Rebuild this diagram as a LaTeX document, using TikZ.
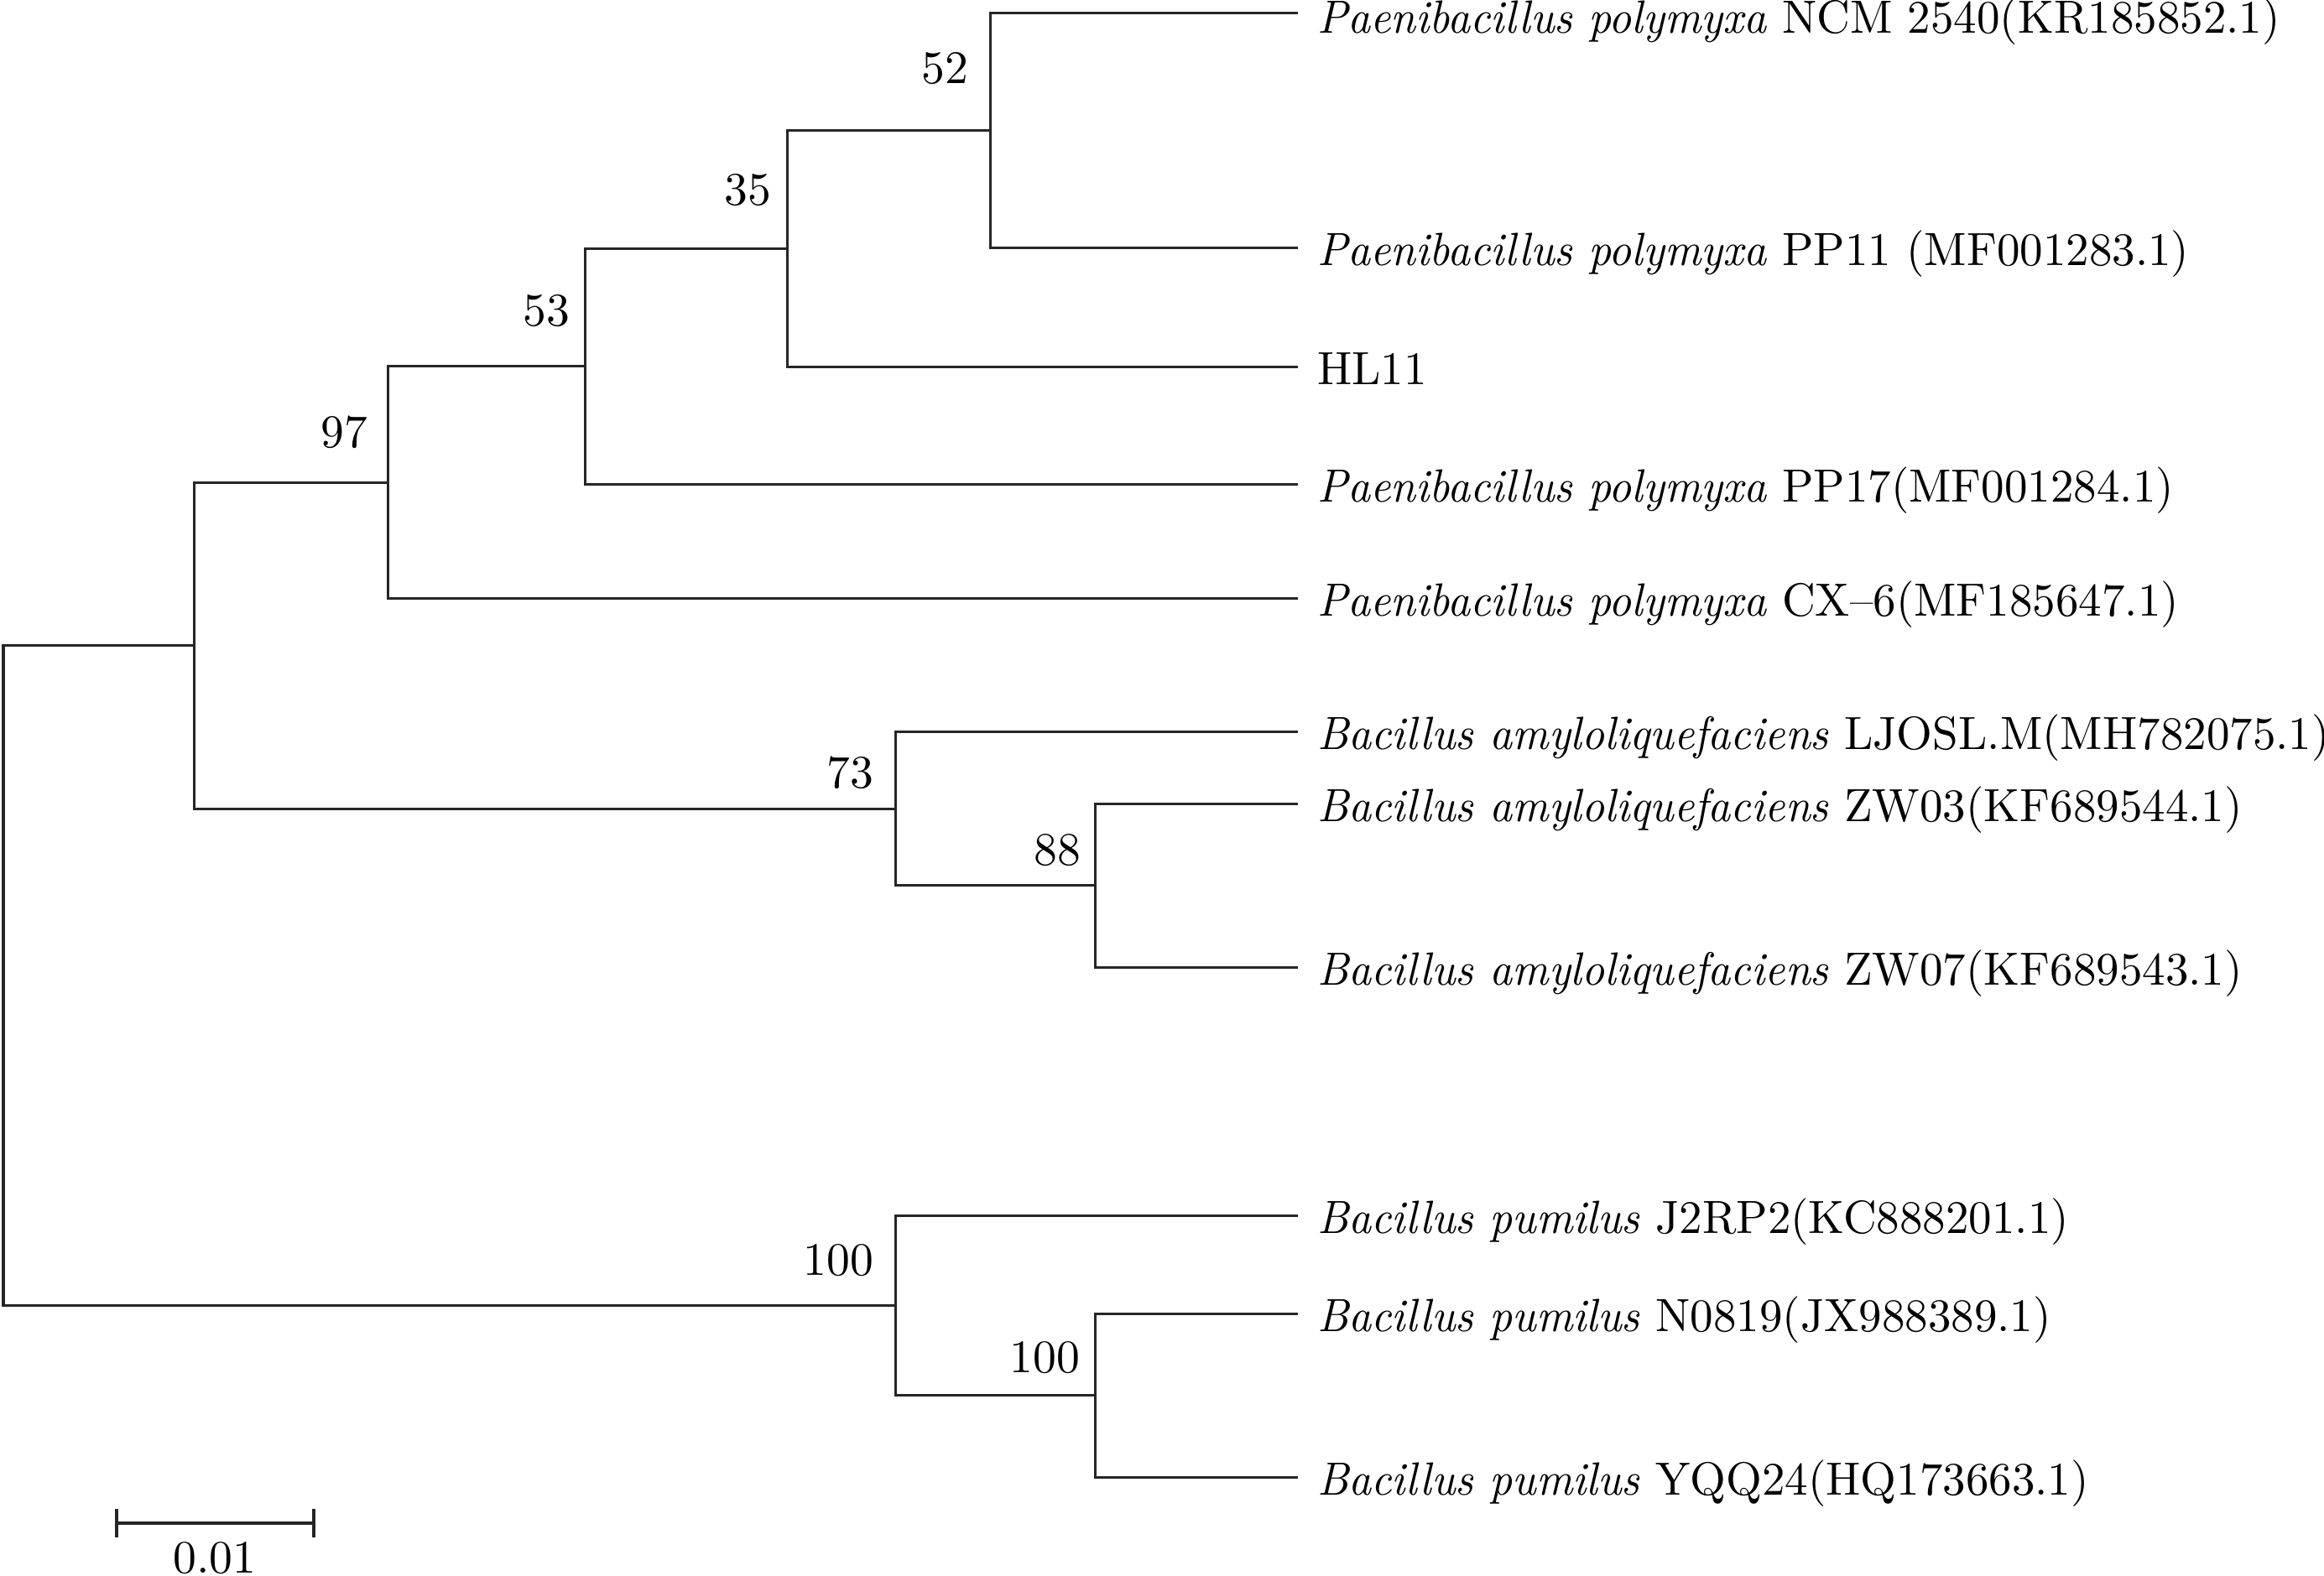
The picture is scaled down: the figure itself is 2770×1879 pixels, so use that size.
\documentclass[tikz,border=0pt]{standalone}
\usepackage{graphicx}
\newcommand{\spc}[1]{\scalebox{0.964}[1]{\textit{#1}}}
\newcommand{\lbl}[1]{\scalebox{0.99}[1]{#1}}
\begin{document}
\begin{tikzpicture}[x=0.18pt,y=-0.18pt,
  br/.style={line width=0.54pt, draw=black!85},
  leaf/.style={anchor=base west, inner sep=0pt, font=\fontsize{10}{12}\selectfont},
  boot/.style={anchor=base east, inner sep=0pt, font=\fontsize{10}{12}\selectfont},
  sbar/.style={line width=0.6pt, draw=black!85}]
\useasboundingbox (0,0) rectangle (2770,1879);
% internal nodes
\coordinate (root) at (4,1163);
\coordinate (nA) at (231,770);
\coordinate (n97) at (462,576);
\coordinate (n53) at (697,437);
\coordinate (n35) at (938,297);
\coordinate (n52) at (1180,156);
\coordinate (n73) at (1067,965);
\coordinate (n88) at (1305,1056);
\coordinate (n100) at (1067,1557);
\coordinate (n100b) at (1305,1664);
% leaf ends
\coordinate (e1) at (1547,16);
\coordinate (e2) at (1547,296);
\coordinate (e3) at (1547,438);
\coordinate (e4) at (1547,578);
\coordinate (e5) at (1547,714);
\coordinate (e6) at (1547,873);
\coordinate (e7) at (1547,959);
\coordinate (e8) at (1547,1154);
\coordinate (e9) at (1547,1450);
\coordinate (e10) at (1547,1567);
\coordinate (e11) at (1547,1762);
% leaf labels
\node[leaf] (t1) at (1569,40) {\lbl{\spc{Paenibacillus polymyxa} NCM 2540(KR185852.1)}};
\node[leaf] (t2) at (1569,317) {\lbl{\spc{Paenibacillus polymyxa} PP11 (MF001283.1)}};
\node[leaf] (t3) at (1569,459) {\lbl{HL11}};
\node[leaf] (t4) at (1569,599) {\lbl{\spc{Paenibacillus polymyxa} PP17(MF001284.1)}};
\node[leaf] (t5) at (1569,735) {\lbl{\spc{Paenibacillus polymyxa} CX--6(MF185647.1)}};
\node[leaf] (t6) at (1569,894) {\lbl{\spc{Bacillus amyloliquefaciens} LJOSL.M(MH782075.1)}};
\node[leaf] (t7) at (1569,980) {\lbl{\spc{Bacillus amyloliquefaciens} ZW03(KF689544.1)}};
\node[leaf] (t8) at (1569,1175) {\lbl{\spc{Bacillus amyloliquefaciens} ZW07(KF689543.1)}};
\node[leaf] (t9) at (1569,1471) {\lbl{\spc{Bacillus pumilus} J2RP2(KC888201.1)}};
\node[leaf] (t10) at (1569,1588) {\lbl{\spc{Bacillus pumilus} N0819(JX988389.1)}};
\node[leaf] (t11) at (1569,1783) {\lbl{\spc{Bacillus pumilus} YQQ24(HQ173663.1)}};
% branches
\draw[br] (n52) |- (e1);
\draw[br] (n52) |- (e2);
\draw[br] (n35) |- (n52);
\draw[br] (n35) |- (e3);
\draw[br] (n53) |- (n35);
\draw[br] (n53) |- (e4);
\draw[br] (n97) |- (n53);
\draw[br] (n97) |- (e5);
\draw[br] (n88) |- (e7);
\draw[br] (n88) |- (e8);
\draw[br] (n73) |- (e6);
\draw[br] (n73) |- (n88);
\draw[br] (nA) |- (n97);
\draw[br] (nA) |- (n73);
\draw[br] (n100b) |- (e10);
\draw[br] (n100b) |- (e11);
\draw[br] (n100) |- (e9);
\draw[br] (n100) |- (n100b);
\draw[br] (root) |- (nA);
\draw[br] (root) |- (n100);
% bootstrap values
\node[boot] (b52) at (1155,100) {52};
\node[boot] (b35) at (920,245) {35};
\node[boot] (b53) at (680,389) {53};
\node[boot] (b97) at (439,534) {97};
\node[boot] (b73) at (1042,940) {73};
\node[boot] (b88) at (1289,1032) {88};
\node[boot] (b100) at (1042,1521) {100};
\node[boot] (b100b) at (1288,1637) {100};
% scale bar
\coordinate (s1) at (139,1816);
\coordinate (s2) at (374,1816);
\draw[sbar] (s1) -- (s2);
\draw[sbar] (s1) ++(0,-17) -- ++(0,34);
\draw[sbar] (s2) ++(0,-17) -- ++(0,34);
\node[anchor=base, inner sep=0pt, font=\fontsize{10}{12}\selectfont] (sl) at (256,1876) {0.01};
\end{tikzpicture}
\end{document}
